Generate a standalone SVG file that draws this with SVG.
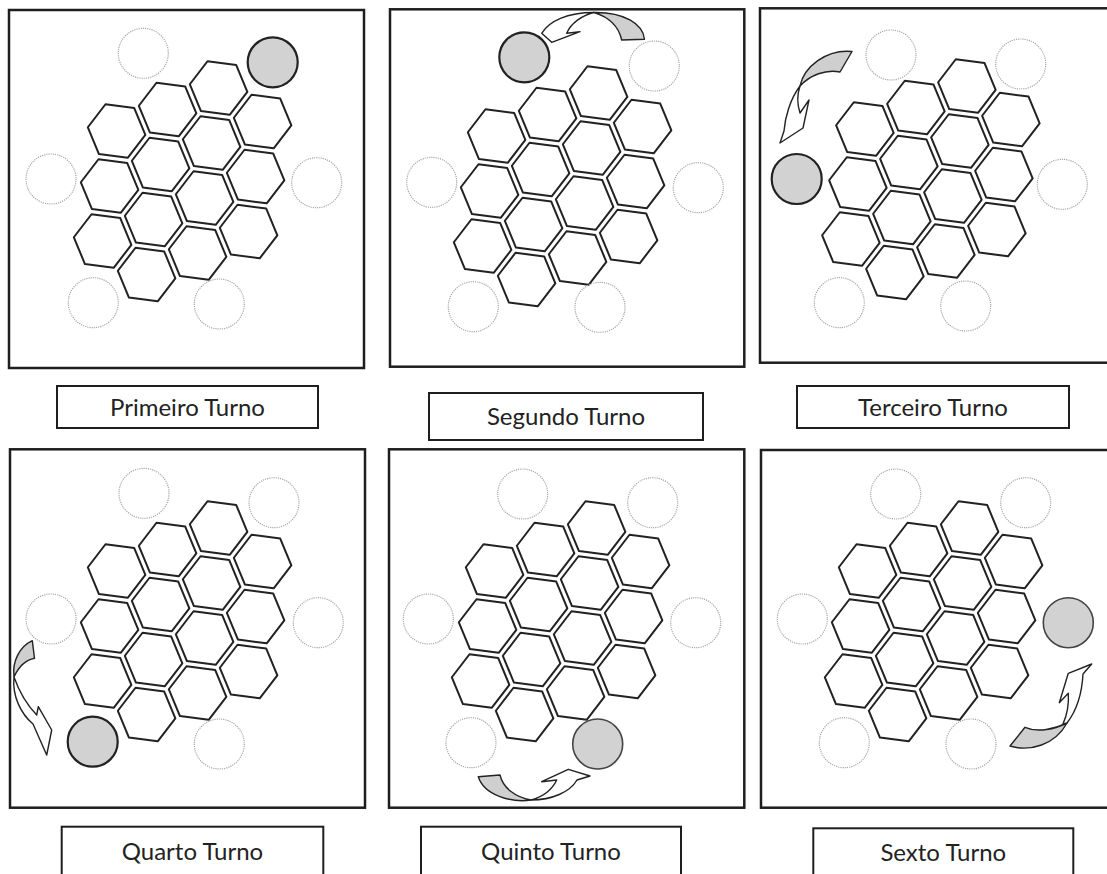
<svg xmlns="http://www.w3.org/2000/svg" xmlns:xlink="http://www.w3.org/1999/xlink" width="1107" height="874" viewBox="0 0 1107 874">
<style>
.frame{fill:none;stroke:#1e1e1e;stroke-width:2.5}
.slot{fill:none;stroke:#a8a8a8;stroke-width:1.2;stroke-dasharray:1.2 1}
.pawn{fill:#d2d2d2;stroke:#222;stroke-width:2.2}
.back{fill:#cfcfcf;stroke:#222;stroke-width:1.4;stroke-linejoin:round}
.front{fill:#fff;stroke:#222;stroke-width:1.4;stroke-linejoin:round}
.lbox{fill:#fff;stroke:#1e1e1e;stroke-width:2}
.ltxt{font-family:Lato,"Open Sans",sans-serif;font-size:24px;fill:#222;text-anchor:middle}
</style>
<defs>
<polygon id="h" fill="none" stroke="#222" stroke-width="2" stroke-linejoin="round" points="28.75,3.79 11.10,26.79 -17.65,23.01 -28.75,-3.79 -11.10,-26.79 17.65,-23.01"/>
<g id="board">
<use href="#h" x="-66" y="-50.25"/>
<use href="#h" x="-15" y="-71.75"/>
<use href="#h" x="36" y="-93.25"/>
<use href="#h" x="-73" y="4.75"/>
<use href="#h" x="-22" y="-16.75"/>
<use href="#h" x="29" y="-38.25"/>
<use href="#h" x="80" y="-59.75"/>
<use href="#h" x="-80" y="59.75"/>
<use href="#h" x="-29" y="38.25"/>
<use href="#h" x="22" y="16.75"/>
<use href="#h" x="73" y="-4.75"/>
<use href="#h" x="-36" y="93.25"/>
<use href="#h" x="15" y="71.75"/>
<use href="#h" x="66" y="50.25"/>
</g>
</defs>
<rect width="1107" height="874" fill="#fff"/>

<g id="panel1">
<rect class="frame" x="9" y="10" width="355" height="358"/>
<use href="#board" x="182.6" y="181.3"/>
<circle class="slot" cx="143.3" cy="53.3" r="25"/>
<circle class="slot" cx="51" cy="179" r="25"/>
<circle class="slot" cx="316.7" cy="182.7" r="25"/>
<circle class="slot" cx="93.3" cy="302.7" r="25"/>
<circle class="slot" cx="219.3" cy="304" r="25"/>
<circle class="pawn" cx="272.7" cy="62.3" r="25"/>
</g>

<g id="panel2">
<rect class="frame" x="390" y="9.3" width="354.3" height="357.4"/>
<use href="#board" x="562.6" y="186.3"/>
<circle class="slot" cx="654.3" cy="66" r="25"/>
<circle class="slot" cx="431.7" cy="182.3" r="25"/>
<circle class="slot" cx="698.3" cy="187.7" r="25"/>
<circle class="slot" cx="473.3" cy="306.7" r="25"/>
<circle class="slot" cx="600" cy="307.3" r="25"/>
<circle class="pawn" cx="524.3" cy="57.3" r="25"/>
</g>

<g id="panel3">
<rect class="frame" x="760" y="8.3" width="360" height="354.4"/>
<use href="#board" x="930.9" y="179.3"/>
<circle class="slot" cx="891" cy="55" r="25"/>
<circle class="slot" cx="1020.7" cy="64" r="25"/>
<circle class="slot" cx="1062.3" cy="184.3" r="25"/>
<circle class="slot" cx="839.3" cy="302.7" r="25"/>
<circle class="slot" cx="965.7" cy="306" r="25"/>
<circle class="pawn" cx="796.7" cy="179" r="25"/>
</g>

<g id="panel4">
<rect class="frame" x="10" y="449.3" width="355" height="358.4"/>
<use href="#board" x="182.6" y="621.3"/>
<circle class="slot" cx="144" cy="493.3" r="25"/>
<circle class="slot" cx="274" cy="502.7" r="25"/>
<circle class="slot" cx="51" cy="619" r="25"/>
<circle class="slot" cx="318.3" cy="622.7" r="25"/>
<circle class="slot" cx="219.3" cy="744" r="25"/>
<circle class="pawn" cx="92.7" cy="741.7" r="25"/>
</g>

<g id="panel5">
<rect class="frame" x="389" y="449.3" width="355.3" height="358.4"/>
<use href="#board" x="560.6" y="621.3"/>
<circle class="slot" cx="522.7" cy="494" r="25"/>
<circle class="slot" cx="652.7" cy="502.7" r="25"/>
<circle class="slot" cx="428.3" cy="619" r="25"/>
<circle class="slot" cx="695.7" cy="622.7" r="25"/>
<circle class="slot" cx="471" cy="742.7" r="25"/>
<circle class="pawn" cx="597.7" cy="744" r="25" style="stroke:#444;stroke-width:1.6"/>
</g>

<g id="panel6">
<rect class="frame" x="761" y="450" width="360" height="357.7"/>
<use href="#board" x="933.6" y="621.3"/>
<circle class="slot" cx="895.7" cy="494" r="25"/>
<circle class="slot" cx="1025.7" cy="502.7" r="25"/>
<circle class="slot" cx="802.3" cy="619" r="25"/>
<circle class="slot" cx="844.3" cy="742.7" r="25"/>
<circle class="slot" cx="971" cy="744" r="25"/>
<circle class="pawn" cx="1068.3" cy="622.7" r="25" style="stroke:#444;stroke-width:1.6"/>
</g>

<g id="connectors">
<path class="back" d="M621.7,40 L644.5,39.3 C643,24 624,12 594,12.5 C609,17 619,27 621.7,40 Z"/>
<path class="front" d="M541.7,33.3 C549,21 567,12.5 594,12.5 C582,15.5 571,23 566.7,33.3 L580,31.7 L551.7,42.3 Z"/>
<path class="back" d="M852,51.5 L840,72 C826,69 810,75 800,86 C804,67 826,49 852,51.5 Z"/>
<path class="front" d="M800,86 C790,99 785,118 784,131 L780,143 L803,128 L809,100 L800,113 C797,104 797,95 800,86 Z"/>
<path class="back" d="M32.3,640.7 L34.5,658.3 C26,660 19,666 14,677 C12,662 19,647 32.3,640.7 Z"/>
<path class="front" d="M14,677 C12,696 21,714 33,724 L46.7,755 L51.7,730 L38.3,706.7 L36.7,715 C28,706 20,694 14,677 Z"/>
<path class="back" d="M478.3,776.7 L500,775 C503,788 515,797 531,800 C511,803 484,795 478.3,776.7 Z"/>
<path class="front" d="M531,800 C552,800 570,792 577,780 L590,776 L568.3,769.3 L541.7,781.7 L556.7,780 C552,790 542,797 531,800 Z"/>
<path class="back" d="M1025,727.3 L1010,746 C1030,752 1055,745 1067,723 C1055,729 1038,733 1025,727.3 Z"/>
<path class="front" d="M1067,723 C1077,710 1082,693 1083,674 L1091.7,664 L1068.3,673.3 L1059.3,702.7 L1068.3,693.3 C1069,704 1067,715 1063,724 Z"/>
</g>

<g id="label1"><rect class="lbox" x="57" y="386" width="261" height="42"/><text class="ltxt" x="187.5" y="416">Primeiro Turno</text></g>
<g id="label2"><rect class="lbox" x="429" y="393" width="274" height="47"/><text class="ltxt" x="566" y="425">Segundo Turno</text></g>
<g id="label3"><rect class="lbox" x="797" y="386" width="272" height="42"/><text class="ltxt" x="933" y="416">Terceiro Turno</text></g>
<g id="label4"><rect class="lbox" x="61.7" y="826.7" width="261.6" height="60"/><text class="ltxt" x="192.5" y="860">Quarto Turno</text></g>
<g id="label5"><rect class="lbox" x="421" y="826.7" width="260" height="60"/><text class="ltxt" x="551" y="860">Quinto Turno</text></g>
<g id="label6"><rect class="lbox" x="813.3" y="828.3" width="260" height="60"/><text class="ltxt" x="943.3" y="860.5">Sexto Turno</text></g>
</svg>
